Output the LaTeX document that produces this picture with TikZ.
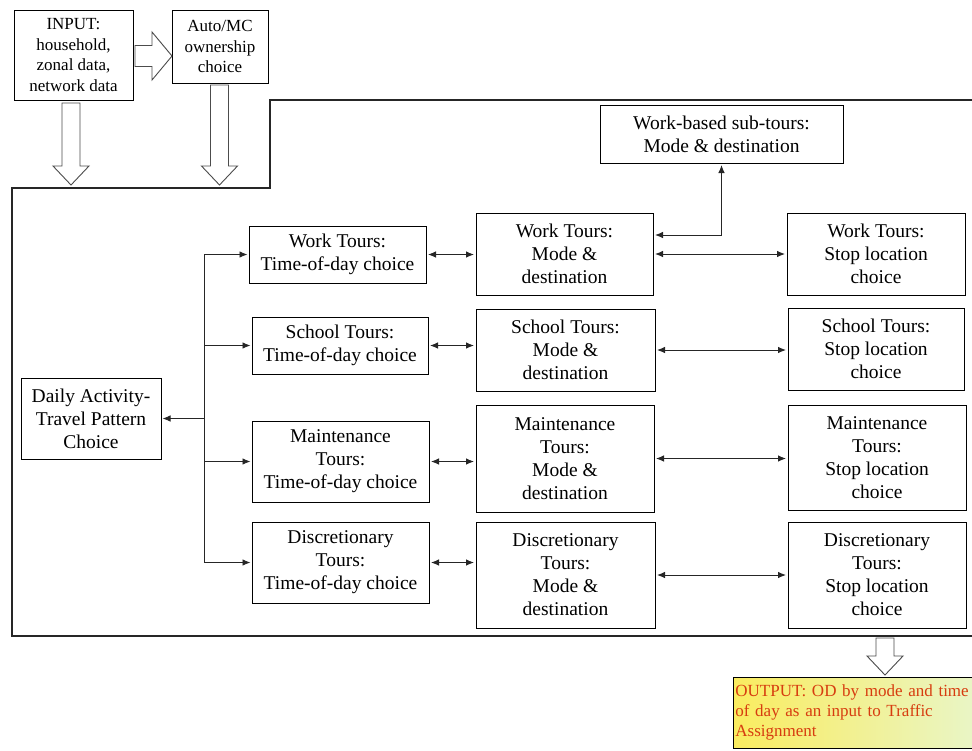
\documentclass[tikz,border=0pt]{standalone}
\usepackage{fontspec}
\setmainfont{Liberation Serif}
\usetikzlibrary{arrows.meta}
\tikzset{>={Latex[length=8pt,width=6.5pt]}}
\usepackage{xcolor}
\colorlet{linecol}{black!85}
\colorlet{fatcol}{black!70}
\definecolor{outtext}{RGB}{215,60,15}
\definecolor{outfillL}{RGB}{250,236,95}
\definecolor{outfillR}{RGB}{232,246,205}
\tikzstyle{frame}=[line width=1.1pt,linecol]
\tikzstyle{conn}=[->,line width=0.9pt,linecol,shorten >=1pt]
\tikzstyle{dconn}=[<->,line width=0.9pt,linecol,shorten >=1.5pt,shorten <=1.5pt]
\tikzstyle{fatarrow}=[draw=fatcol,line width=0.9pt,fill=white,line join=miter]
\tikzstyle{box}=[draw,line width=1pt,align=center,inner sep=0pt,
                 font=\fontsize{19.5}{23}\selectfont]
\tikzstyle{smallbox}=[box,font=\fontsize{17}{20.5}\selectfont]

\begin{document}
\begin{tikzpicture}[x=1pt,y=-1pt]
  \useasboundingbox (0,0) rectangle (972,750);
  \def\sw{9}
  \def\hw{18}
  \def\hl{19}

  % FRAME
  \draw[frame] (972,100) -- (270,100) -- (270,188) -- (12,188)
               -- (12,636) -- (972,636);

  % INPUT SIDE
  \node[smallbox,minimum width=119,minimum height=90] (input) at (73.5,55)
    {INPUT:\\household,\\zonal data,\\network data};
  \node[smallbox,minimum width=96,minimum height=73] (auto) at (220,46.5)
    {Auto/MC\\ownership\\choice};

  % BOXES
  \node[box,minimum width=243,minimum height=58] (sub) at (721.5,134)
    {Work-based sub-tours:\\Mode \& destination};
  \node[box,minimum width=140,minimum height=81] (daily) at (91,418.5)
    {Daily Activity-\\Travel Pattern\\Choice};

  \node[box,minimum width=177,minimum height=57] (worktod) at (337.5,254.5) {Work Tours:\\Time-of-day choice};
  \node[box,minimum width=177,minimum height=82] (workmd)  at (564.5,254)   {Work Tours:\\Mode \&\\destination};
  \node[box,minimum width=178,minimum height=82] (workstp) at (876,254)     {Work Tours:\\Stop location\\choice};

  \node[box,minimum width=176,minimum height=57] (schtod) at (340,345.5) {School Tours:\\Time-of-day choice};
  \node[box,minimum width=179,minimum height=82] (schmd)  at (565.5,350) {School Tours:\\Mode \&\\destination};
  \node[box,minimum width=176,minimum height=82] (schstp) at (876,349)   {School Tours:\\Stop location\\choice};

  \node[box,minimum width=177,minimum height=81]  (mnttod) at (340.5,461.5) {Maintenance\\Tours:\\Time-of-day choice};
  \node[box,minimum width=178,minimum height=107] (mntmd)  at (565,458.5)   {Maintenance\\Tours:\\Mode \&\\destination};
  \node[box,minimum width=178,minimum height=105] (mntstp) at (877,457.5)   {Maintenance\\Tours:\\Stop location\\choice};

  \node[box,minimum width=177,minimum height=81]  (distod) at (340.5,562.5) {Discretionary\\Tours:\\Time-of-day choice};
  \node[box,minimum width=179,minimum height=106] (dismd)  at (565.5,575)   {Discretionary\\Tours:\\Mode \&\\destination};
  \node[box,minimum width=178,minimum height=106] (disstp) at (877,575)     {Discretionary\\Tours:\\Stop location\\choice};

  % OUTPUT
  \node[draw,line width=0.8pt,anchor=north west,left color=outfillL,right color=outfillR,
        text=outtext,align=left,text width=254,minimum height=71,inner xsep=2pt,
        font=\fontsize{17}{20}\selectfont] (out) at (733,677)
    {OUTPUT: OD by mode and time\\of day as an input to Traffic\\Assignment};

  % FAT ARROWS
  \foreach \cx/\ya/\yb in {71/103/185,219.5/85/185,885/638/675}{
    \draw[fatarrow] ({\cx-\sw},\ya) -- ({\cx-\sw},{\yb-\hl}) -- ({\cx-\hw},{\yb-\hl})
      -- (\cx,\yb) -- ({\cx+\hw},{\yb-\hl}) -- ({\cx+\sw},{\yb-\hl})
      -- ({\cx+\sw},\ya) -- cycle;
  }
  \draw[fatarrow] (135,45.5) -- (152,45.5) -- (152,32) -- (172,56)
    -- (152,80) -- (152,66.5) -- (135,66.5) -- cycle;

  % TRUNK
  \coordinate (trunk) at (204,0);
  \draw[line width=0.9pt,linecol] (worktod.west -| trunk) -- (distod.west -| trunk);
  \foreach \n in {worktod,schtod,mnttod,distod}{
    \draw[conn] (\n.west -| trunk) -- (\n.west);
  }
  \draw[conn] (daily.east -| trunk) -- (daily.east);

  % LINKS
  \foreach \t/\m/\s in {worktod/workmd/workstp,schtod/schmd/schstp,
                        mnttod/mntmd/mntstp,distod/dismd/disstp}{
    \draw[dconn] (\t.east) -- (\t.east -| \m.west);
    \draw[dconn] (\m.east) -- (\m.east -| \s.west);
  }
  \draw[dconn] ([yshift=19pt]workmd.east) -| (sub.south);

\end{tikzpicture}
\end{document}
